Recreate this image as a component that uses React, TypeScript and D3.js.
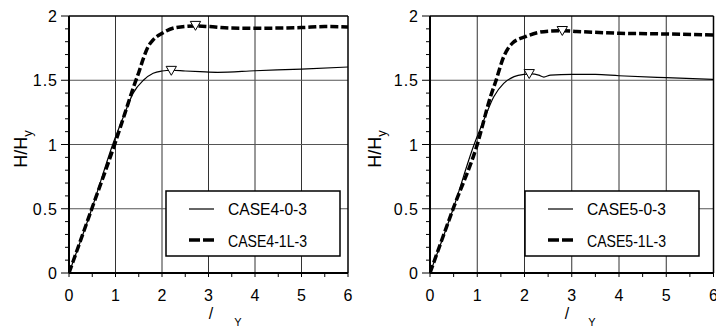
import React from 'react'
import * as d3 from 'd3'

// tick values
const xTicks = [0, 1, 2, 3, 4, 5, 6]
const yTicks = [0, 0.5, 1, 1.5, 2]
const yTickLabels = ['0', '0.5', '1', '1.5', '2']

// CASE4 (left panel)
const case4_0_3: [number, number][] = [
  [0, 0], [0.5, 0.51], [0.95, 1.01], [1.17, 1.216], [1.38, 1.4], [1.6, 1.5],
  [1.81, 1.554], [2.0, 1.572], [2.2, 1.578], [2.5, 1.572], [2.82, 1.567],
  [3.2, 1.562], [4, 1.574], [5, 1.587], [6, 1.603]
]
const case4_1L_3: [number, number][] = [
  [0, 0], [0.5, 0.51], [1.0, 1.02], [1.2, 1.24], [1.4, 1.46], [1.5, 1.56],
  [1.6, 1.67], [1.7, 1.76], [1.8, 1.81], [2.0, 1.865], [2.3, 1.91],
  [2.7, 1.922], [3.0, 1.918], [3.5, 1.906], [4, 1.905], [4.5, 1.906],
  [5, 1.91], [5.5, 1.918], [6, 1.915]
]
const case4Peaks: [number, number][] = [[2.2, 1.585], [2.72, 1.935]]

// CASE5 (right panel)
const case5_0_3: [number, number][] = [
  [0, 0], [0.5, 0.51], [0.93, 0.996], [1.14, 1.19], [1.35, 1.372], [1.56, 1.476],
  [1.78, 1.528], [1.99, 1.546], [2.15, 1.55], [2.3, 1.54], [2.41, 1.525],
  [2.55, 1.54], [3.0, 1.546], [3.5, 1.545], [4, 1.535], [5, 1.52], [6, 1.507]
]
const case5_1L_3: [number, number][] = [
  [0, 0], [0.5, 0.51], [1.0, 1.0], [1.28, 1.372], [1.39, 1.49], [1.56, 1.683],
  [1.74, 1.787], [2.02, 1.839], [2.27, 1.87], [2.55, 1.883], [2.83, 1.886],
  [3.1, 1.88], [4, 1.866], [5, 1.86], [6, 1.852]
]
const case5Peaks: [number, number][] = [[2.1, 1.56], [2.8, 1.895]]

const font = '"Liberation Sans", Arial, sans-serif'

const panels = [
  {
    left: 69, right: 348, yLabX: 27, slashX: 211, subX: 238,
    legend: { x: 166, w: 174 },
    names: ['CASE4-0-3', 'CASE4-1L-3'],
    solid: case4_0_3, dashed: case4_1L_3, peaks: case4Peaks
  },
  {
    left: 430, right: 713.5, yLabX: 381, slashX: 567, subX: 592,
    legend: { x: 525, w: 174 },
    names: ['CASE5-0-3', 'CASE5-1L-3'],
    solid: case5_0_3, dashed: case5_1L_3, peaks: case5Peaks
  }
]

const top = 16, bottom = 273

function Panel({ p, idx }: { p: typeof panels[number], idx: number }) {
  const x = d3.scaleLinear().domain([0, 6]).range([p.left, p.right])
  const y = d3.scaleLinear().domain([0, 2]).range([bottom, top])
  const line = d3.line<[number, number]>()
    .x(d => x(d[0])).y(d => y(d[1]))
    .curve(d3.curveMonotoneX)
  const tri = d3.symbol().type(d3.symbolTriangle).size(46)()
  const yMinor = d3.range(0, 2.001, 0.1)
  const xMinor = d3.range(0, 6.001, 0.5)
  const clipId = `clip${idx}`
  return (
    <g>
      <defs>
        <clipPath id={clipId}>
          <rect x={p.left} y={top} width={p.right - p.left} height={bottom - top} />
        </clipPath>
      </defs>
      {/* grid */}
      {xTicks.slice(1, -1).map(t => (
        <line key={'gx' + t} x1={x(t)} x2={x(t)} y1={top} y2={bottom} stroke="#333" strokeWidth={1} />
      ))}
      {yTicks.slice(1, -1).map(t => (
        <line key={'gy' + t} x1={p.left} x2={p.right} y1={y(t)} y2={y(t)} stroke="#555" strokeWidth={1} />
      ))}
      {/* ticks */}
      {yMinor.map((t, i) => (
        <line key={'ym' + i} x1={p.left - (i % 5 === 0 ? 8 : 4)} x2={p.left} y1={y(t)} y2={y(t)} stroke="#000" strokeWidth={1} />
      ))}
      {xMinor.map((t, i) => (
        <line key={'xm' + i} x1={x(t)} x2={x(t)} y1={bottom} y2={bottom + 4} stroke="#000" strokeWidth={1} />
      ))}
      {/* frame */}
      <line x1={p.left} x2={p.right} y1={top} y2={top} stroke="#000" strokeWidth={1.5} />
      <line x1={p.right} x2={p.right} y1={top} y2={bottom} stroke="#000" strokeWidth={1.5} />
      <line x1={p.left} x2={p.left} y1={top} y2={bottom} stroke="#000" strokeWidth={2} />
      <line x1={p.left} x2={p.right} y1={bottom} y2={bottom} stroke="#000" strokeWidth={2} />
      {/* tick labels */}
      {yTicks.map((t, i) => (
        <text key={'yl' + t} x={p.left - 11} y={y(t) + 6} textAnchor="end" fontSize={16} fontFamily={font} letterSpacing={1}>
          {yTickLabels[i]}
        </text>
      ))}
      {xTicks.map(t => (
        <text key={'xl' + t} x={x(t)} y={300.5} textAnchor="middle" fontSize={16} fontFamily={font}>
          {t}
        </text>
      ))}
      {/* axis titles */}
      <text transform={`translate(${p.yLabX},149) rotate(-90)`} textAnchor="middle" fontSize={18} fontFamily={font}>
        H/H<tspan fontSize={13} dy={5}>y</tspan>
      </text>
      <text x={p.slashX} y={319} textAnchor="middle" fontSize={16} fontFamily={font}>/</text>
      <text x={p.subX} y={326} textAnchor="middle" fontSize={11} fontFamily={font}>Y</text>
      {/* curves */}
      <g clipPath={`url(#${clipId})`}>
        <path d={line(p.solid) || ''} fill="none" stroke="#000" strokeWidth={1.2} />
        <path d={line(p.dashed) || ''} fill="none" stroke="#000" strokeWidth={3.5} strokeDasharray="8,3" />
      </g>
      {p.peaks.map((d, i) => (
        <path key={'pk' + i} d={tri || ''} transform={`translate(${x(d[0])},${y(d[1])}) rotate(180)`} fill="#fff" stroke="#000" strokeWidth={1} />
      ))}
      {/* legend */}
      <rect x={p.legend.x} y={191} width={p.legend.w} height={65} fill="#fff" stroke="#000" strokeWidth={1.5} />
      <line x1={p.legend.x + 23} x2={p.legend.x + 48} y1={209} y2={209} stroke="#000" strokeWidth={1.2} />
      <line x1={p.legend.x + 23} x2={p.legend.x + 48} y1={240} y2={240} stroke="#000" strokeWidth={3.5} strokeDasharray="11,3" />
      <text x={p.legend.x + 62} y={214.5} fontSize={17} fontFamily={font} textLength={79} lengthAdjust="spacingAndGlyphs">{p.names[0]}</text>
      <text x={p.legend.x + 62} y={246.5} fontSize={17} fontFamily={font} textLength={79} lengthAdjust="spacingAndGlyphs">{p.names[1]}</text>
    </g>
  )
}

export default function App() {
  return (
    <svg width={716} height={327} style={{ position: 'absolute', left: 0, top: 0, background: '#fff' }}>
      {panels.map((p, i) => <Panel key={i} p={p} idx={i} />)}
    </svg>
  )
}
